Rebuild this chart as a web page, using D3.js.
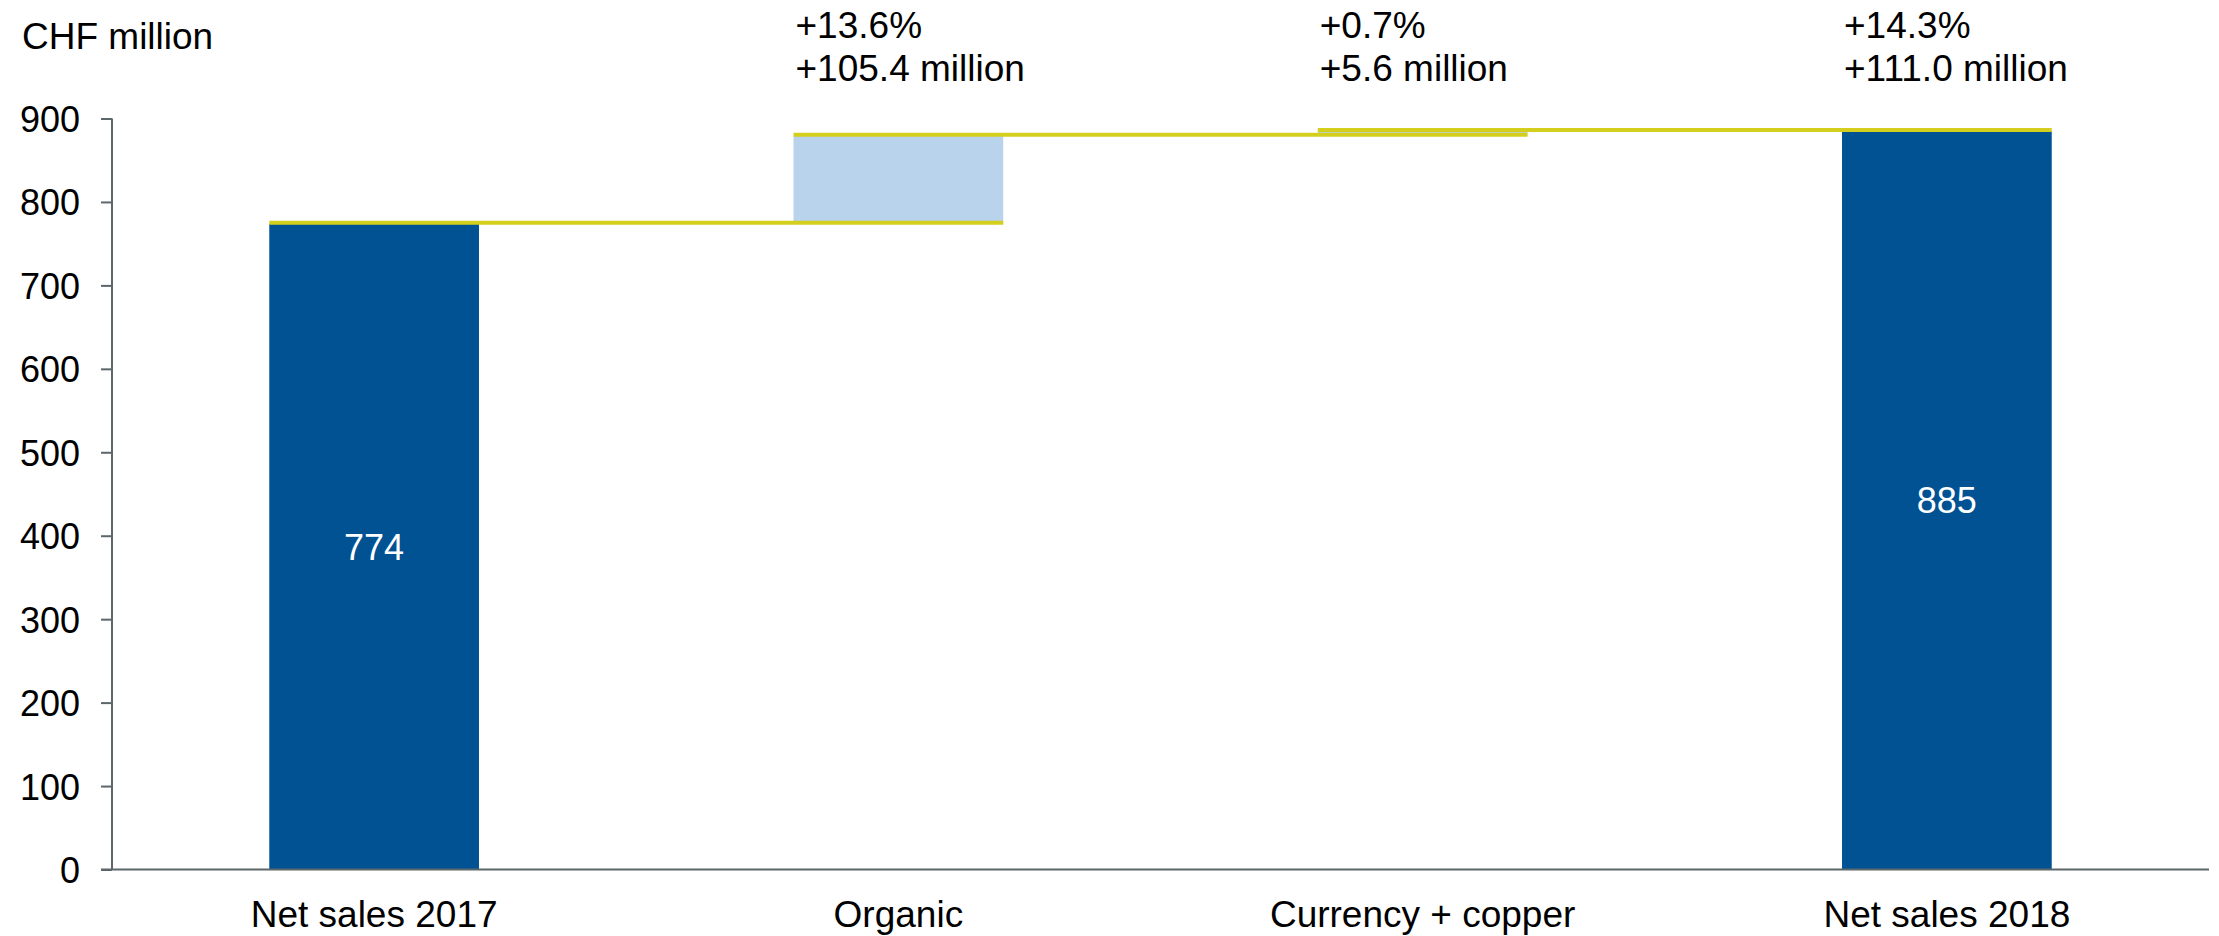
<!DOCTYPE html>
<html>
<head>
<meta charset="utf-8">
<script src="https://cdn.jsdelivr.net/npm/d3@7"></script>
<style>
  html, body { margin: 0; padding: 0; background: #ffffff; }
  svg { display: block; font-family: "Liberation Sans", Arial, sans-serif; }
</style>
</head>
<body>
<svg id="chart" width="2219" height="936"></svg>
<script>
// Net sales bridge 2017 -> 2018 (CHF million)
const categories = ["Net sales 2017", "Organic", "Currency + copper", "Net sales 2018"];
const values = [774, 105.4, 5.6, 885];
const kinds = ["total", "delta", "delta", "total"];
const pctLabels = [null, "+13.6%", "+0.7%", "+14.3%"];
const absLabels = [null, "+105.4 million", "+5.6 million", "+111.0 million"];
const yTicks = [0, 100, 200, 300, 400, 500, 600, 700, 800, 900];
const unitLabel = "CHF million";

const colors = {
  total: "#005293",
  delta: "#b8d3eb",
  connector: "#d4cf1d",
  axis: "#5b676b",
  text: "#000000"
};

const svg = d3.select("#chart");
const margin = { left: 112, right: 10, top: 118.5, bottom: 66.5 };
const W = 2219, H = 936;
const fontSize = 37;

const x = d3.scaleBand()
  .domain(categories)
  .range([margin.left, W - margin.right])
  .paddingInner(0.6)
  .paddingOuter(0.3);

const y = d3.scaleLinear()
  .domain([0, 900])
  .range([H - margin.bottom, margin.top]);

// Waterfall running levels
let running = 0;
const steps = categories.map((c, i) => {
  let start, end;
  if (kinds[i] === "total") { start = 0; end = values[i]; running = values[i]; }
  else { start = running; end = running + values[i]; running = end; }
  return { cat: c, kind: kinds[i], start, end, value: values[i] };
});

// Bars
svg.append("g").selectAll("rect")
  .data(steps)
  .join("rect")
  .attr("x", d => x(d.cat))
  .attr("width", x.bandwidth())
  .attr("y", d => y(Math.max(d.start, d.end)))
  .attr("height", d => Math.abs(y(d.start) - y(d.end)))
  .attr("fill", d => colors[d.kind]);

// Connector lines: from the left of one step to the right of the next
const links = steps.slice(0, -1).map((d, i) => ({
  level: d.end,
  x0: x(d.cat),
  x1: x(steps[i + 1].cat) + x.bandwidth()
}));
svg.append("g").selectAll("line")
  .data(links)
  .join("line")
  .attr("x1", d => d.x0)
  .attr("x2", d => d.x1)
  .attr("y1", d => y(d.level) - 1)
  .attr("y2", d => y(d.level) - 1)
  .attr("stroke", colors.connector)
  .attr("stroke-width", 4);

// Y axis
const yAxis = svg.append("g")
  .attr("transform", `translate(${margin.left},0)`)
  .call(d3.axisLeft(y).tickValues(yTicks).tickSize(11).tickPadding(21).tickFormat(d3.format("d")));
yAxis.select(".domain").attr("stroke", colors.axis).attr("stroke-width", 2)
  .attr("d", `M0,${y(0)}V${y(900)}`);
yAxis.selectAll(".tick line").attr("stroke", colors.axis).attr("stroke-width", 2);
yAxis.selectAll(".tick text")
  .attr("fill", colors.text)
  .attr("font-size", 36)
  .attr("font-family", "Liberation Sans, Arial, sans-serif")
  .attr("dy", "0.36em");

// X axis baseline and category labels
const xAxis = svg.append("g")
  .attr("transform", `translate(0,${y(0)})`)
  .call(d3.axisBottom(x).tickSize(0).tickPadding(31));
xAxis.select(".domain").attr("stroke", colors.axis).attr("stroke-width", 2)
  .attr("d", `M${margin.left - 11},0H${W - margin.right}`);
xAxis.selectAll(".tick text")
  .attr("fill", colors.text)
  .attr("font-size", fontSize)
  .attr("font-family", "Liberation Sans, Arial, sans-serif");

// Unit label
svg.append("text")
  .attr("x", 22)
  .attr("y", 49)
  .attr("font-size", fontSize)
  .attr("fill", colors.text)
  .text(unitLabel);

// Values inside the total bars
svg.append("g").selectAll("text")
  .data(steps.filter(d => d.kind === "total"))
  .join("text")
  .attr("x", d => x(d.cat) + x.bandwidth() / 2)
  .attr("y", d => (y(0) + y(d.end)) / 2)
  .attr("dy", "0.36em")
  .attr("text-anchor", "middle")
  .attr("font-size", 36)
  .attr("fill", "#ffffff")
  .text(d => d3.format("d")(d.value));

// Change annotations above the chart
const notes = categories.map((c, i) => ({ cat: c, pct: pctLabels[i], abs: absLabels[i] }))
  .filter(d => d.pct);
const noteG = svg.append("g").selectAll("text")
  .data(notes)
  .join("text")
  .attr("x", d => x(d.cat) + 2)
  .attr("y", 38)
  .attr("font-size", fontSize)
  .attr("fill", colors.text);
noteG.append("tspan").text(d => d.pct);
noteG.append("tspan").attr("x", d => x(d.cat) + 2).attr("dy", 43).text(d => d.abs);
</script>
</body>
</html>
